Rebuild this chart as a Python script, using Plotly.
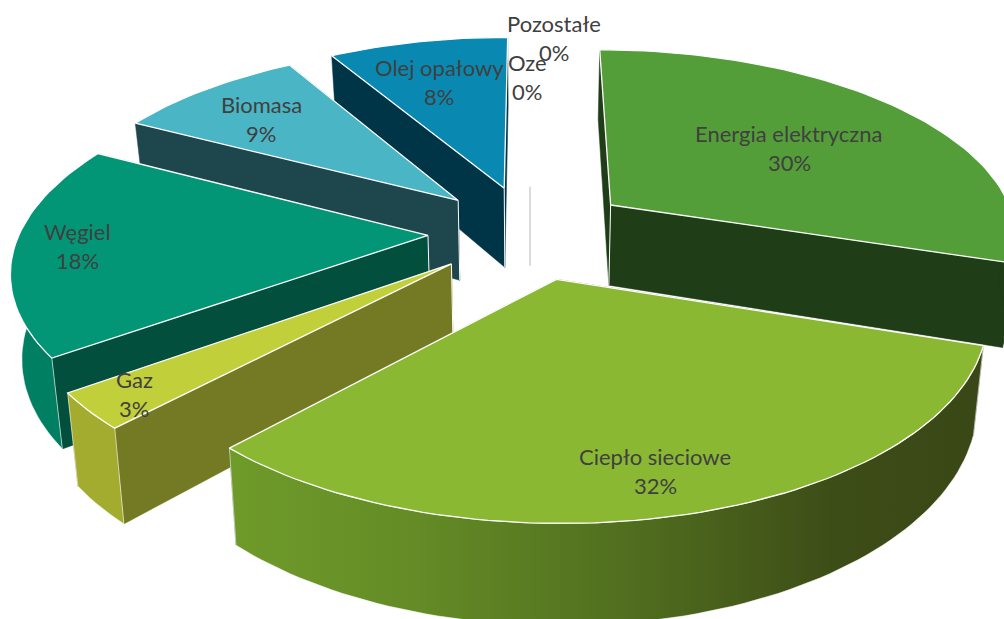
import math
import plotly.graph_objects as go

categories = ["Energia elektryczna", "Ciepło sieciowe", "Gaz", "Węgiel", "Biomasa", "Olej opałowy", "Oze", "Pozostałe"]
values = [30, 32, 3, 17.7, 8.85, 8.45, 0, 0]
top_colors = ["#549E39", "#8AB833", "#C0CF3A", "#029676", "#4AB5C4", "#0989B1", "#D9D9D9", "#D9D9D9"]
cut_colors = ["#1F3D16", "#3A4716", "#747A23", "#024F3D", "#1E464D", "#003547", "#D9D9D9", "#D9D9D9"]
rim_colors = ["#1F3D16", "#6D9629", "#A4AC30", "#007F63", "#1E464D", "#003547", "#D9D9D9", "#D9D9D9"]
draw_order = [0, 6, 7, 5, 4, 3, 2, 1]
label_x = [789, 655, 134, 77, 261, 439, 527, 554]
label_y = [133, 456, 379, 231, 104, 67, 62, 23]
line_gap = 29.5

EXPLODE = 0.25
CX, CY = 530, 232
A, B, DEPTH, PERSP = 408, 188, 82, 0.16
TAPER = 0.022


def project(wx, wy, wz):
    s = 1 / (1 - PERSP * wy)
    return CX + A * wx * s * (1 + TAPER * wz), CY + B * wy * s - DEPTH * wz * s


def unit(deg):
    r = math.radians(deg)
    return math.sin(r), -math.cos(r)


fig = go.Figure()


def poly(points, fill, line="#FFFFFF", width=1.3, gradient=None):
    xs = [p[0] for p in points] + [points[0][0]]
    ys = [p[1] for p in points] + [points[0][1]]
    kw = dict(fillgradient=gradient) if gradient else dict(fillcolor=fill)
    fig.add_trace(go.Scatter(x=xs, y=ys, mode="lines", fill="toself", hoverinfo="skip",
                             line=dict(color=line, width=width), showlegend=False, **kw))


def seg(p, q, color="#FFFFFF", width=1.3):
    fig.add_trace(go.Scatter(x=[p[0], q[0]], y=[p[1], q[1]], mode="lines", hoverinfo="skip",
                             line=dict(color=color, width=width), showlegend=False))


total = sum(values)
starts = []
angle = 0.0
for v in values:
    starts.append(angle)
    angle += 360.0 * v / total

for i in draw_order:
    a0 = starts[i]
    a1 = a0 + 360.0 * values[i] / total
    ux, uy = unit((a0 + a1) / 2)
    ax, ay = EXPLODE * ux, EXPLODE * uy

    if values[i] == 0:
        seg(project(ax, ay, 0), project(ax, ay, -1), top_colors[i], 1.5)
        continue

    n = max(6, int((a1 - a0) / 1.5))
    arc = [a0 + (a1 - a0) * k / n for k in range(n + 1)]
    edge = [(ax + unit(t)[0], ay + unit(t)[1]) for t in arc]

    # straight cut faces
    for ex, ey in (edge[0], edge[-1]):
        poly([project(ax, ay, 0), project(ex, ey, 0), project(ex, ey, -1), project(ax, ay, -1)],
             cut_colors[i], line=cut_colors[i], width=0.5)
    seg(project(ax, ay, 0), project(ax, ay, -1), "#FFFFFF", 1.0)

    # outer rim: only the part that faces the viewer
    r0, r1 = max(a0, 90.0), min(a1, 270.0)
    if r1 > r0:
        m = max(6, int((r1 - r0) / 1.5))
        rim_edge = [(ax + unit(r0 + (r1 - r0) * k / m)[0], ay + unit(r0 + (r1 - r0) * k / m)[1])
                    for k in range(m + 1)]
        rim = [project(x, y, 0) for x, y in rim_edge] + [project(x, y, -1) for x, y in reversed(rim_edge)]
        if categories[i] == "Ciepło sieciowe":
            grad = dict(type="horizontal",
                        colorscale=[[0, "#6F9B2A"], [0.25, "#648B26"], [0.55, "#4F6C1E"], [0.8, "#3D4D17"], [1, "#3A4716"]])
            poly(rim, None, line="#FFFFFF", width=0.6, gradient=grad)
        else:
            rim_line = rim_colors[i] if rim_colors[i] == cut_colors[i] else "#FFFFFF"
            poly(rim, rim_colors[i], line=rim_line, width=0.6)

    # top face
    poly([project(ax, ay, 0)] + [project(x, y, 0) for x, y in edge], top_colors[i])

for name, v, lx, ly in zip(categories, values, label_x, label_y):
    for txt, yy in ((name, ly), (f"{round(v)}%", ly + line_gap)):
        fig.add_annotation(x=lx, y=yy, text=txt, showarrow=False, xanchor="center", yanchor="middle",
                           font=dict(family="Lato", size=22, color="#404040"))

fig.update_layout(width=1004, height=619, margin=dict(l=0, r=0, t=0, b=0),
                  paper_bgcolor="white", plot_bgcolor="white", showlegend=False,
                  xaxis=dict(range=[0, 1004], visible=False, fixedrange=True),
                  yaxis=dict(range=[619, 0], visible=False, fixedrange=True))

fig.write_html("out.html", config={"displayModeBar": False},
               post_script="document.body.style.margin='0';document.body.style.overflow='hidden';")
